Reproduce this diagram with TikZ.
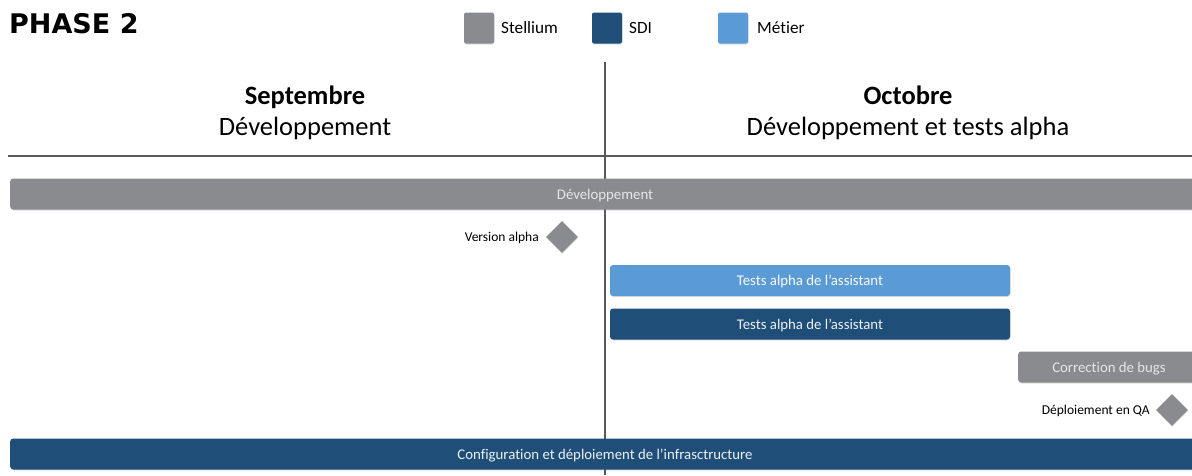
\documentclass[tikz,border=0pt]{standalone}
\usepackage{fontspec}
\setmainfont[Ligatures=NoCommon]{Carlito}
\newfontfamily\titlefont{DejaVu Sans}
\usetikzlibrary{shapes.geometric,shadows}
\definecolor{stgray}{HTML}{898B8E}
\definecolor{sdiblue}{HTML}{1F4E79}
\definecolor{metblue}{HTML}{5B9BD5}
\definecolor{axisgray}{HTML}{595959}
\definecolor{bartextgray}{HTML}{E6E6E6}
\tikzset{
  bar/.style={rounded corners=3pt, minimum height=31pt, inner sep=0pt, font=\fontsize{14.8}{17}\selectfont,
    text height=10pt, text depth=0pt,
    drop shadow={shadow xshift=0.5pt, shadow yshift=-1pt, opacity=0.25}},
  graybar/.style={bar, fill=stgray, text=bartextgray},
  sdibar/.style={bar, fill=sdiblue, text=white!92!sdiblue},
  metbar/.style={bar, fill=metblue, text=white!95!metblue},
  barlabel/.style={font=\fontsize{14.8}{17}\selectfont, inner sep=0pt, text height=10pt, text depth=0pt},
  legbox/.style={rounded corners=2pt, minimum width=30pt, minimum height=31pt, inner sep=0pt,
    drop shadow={shadow xshift=0.5pt, shadow yshift=-1pt, opacity=0.25}},
  legtext/.style={anchor=west, inner sep=0pt, font=\fontsize{17.2}{19}\selectfont, text height=11pt, text depth=0pt},
  milestone/.style={diamond, fill=stgray, minimum width=32pt, minimum height=32pt, inner sep=0pt,
    drop shadow={shadow xshift=0.5pt, shadow yshift=-1pt, opacity=0.2}},
  mslabel/.style={anchor=east, inner sep=0pt, font=\fontsize{13.5}{15}\selectfont, text height=9pt, text depth=0pt},
  monthname/.style={font=\fontsize{26.5}{30}\selectfont\bfseries, inner sep=0pt, anchor=base},
  phasename/.style={font=\fontsize{26.5}{30}\selectfont, inner sep=0pt, anchor=base},
  axis/.style={draw=axisgray, line width=1.3pt}
}
\begin{document}
\begin{tikzpicture}[x=1pt,y=-1pt]
\useasboundingbox (0,0) rectangle (1192,475);
\fill[white] (0,0) rectangle (1192,475);

% title
\node[anchor=base west, inner sep=0pt, font=\titlefont\fontsize{27}{30}\selectfont\bfseries] (title) at (9,33) {PHASE 2};

% legend
\node[legbox, fill=stgray] (lg1) at (479,28) {};
\node[legtext] (lt1) at (501,28) {Stellium};
\node[legbox, fill=sdiblue] (lg2) at (607,28) {};
\node[legtext] (lt2) at (629,28) {SDI};
\node[legbox, fill=metblue] (lg3) at (733,28) {};
\node[legtext] (lt3) at (757,28) {Métier};

% axes
\coordinate (vtop) at (605,62);
\coordinate (vbot) at (605,475);
\coordinate (hleft) at (8,156);
\coordinate (hright) at (1192,156);
\draw[axis] (hleft) -- (hright);
\draw[axis] (vtop) -- (vbot);

% headers
\node[monthname] (sep) at (305,104) {Septembre};
\node[phasename] (sepdev) at (305,135) {Développement};
\node[monthname] (oct) at (908,104) {Octobre};
\node[phasename] (octdev) at (908,135) {Développement et tests alpha};

% bars
\node[graybar, minimum width=1190pt, anchor=west] (dev) at (10,194) {};
\node[barlabel, text=bartextgray] (devlbl) at (605,194) {Développement};

\node[milestone] (va) at (562,237) {};
\node[mslabel] (valbl) at (539,237) {Version alpha};

\node[metbar, minimum width=400pt] (tam) at (810,280.5) {Tests alpha de l’assistant};
\node[sdibar, minimum width=400pt] (tas) at (810,324) {Tests alpha de l’assistant};

\node[graybar, minimum width=190pt, anchor=west] (cb) at (1018,367) {};
\node[barlabel, text=bartextgray] (cblbl) at (1109,367) {Correction de bugs};

\node[milestone] (qa) at (1172,410) {};
\node[mslabel] (qalbl) at (1150,410) {Déploiement en QA};

\node[sdibar, minimum width=1190pt, anchor=west] (infra) at (10,454) {};
\node[barlabel, text=white!92!sdiblue] (infralbl) at (605,454) {Configuration et déploiement de l’infrasctructure};
\end{tikzpicture}
\end{document}
